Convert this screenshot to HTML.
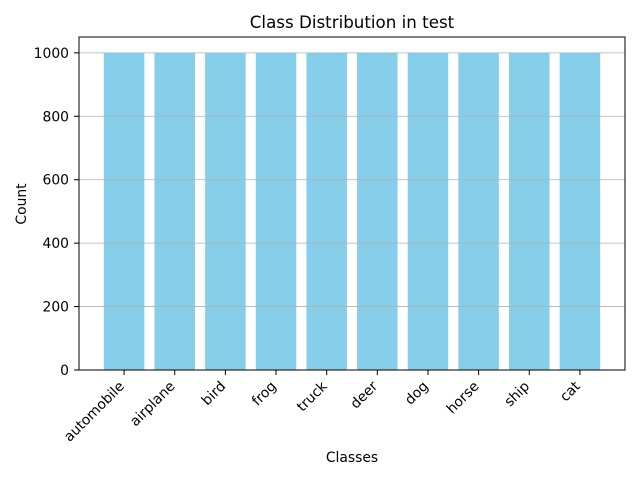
<!DOCTYPE html>
<html><head><meta charset="utf-8"><style>
body{margin:0;background:#fff;}
svg{font-family:"DejaVu Sans","Liberation Sans",sans-serif;}
</style></head><body>
<svg id="chart" width="640" height="480" xmlns="http://www.w3.org/2000/svg">
<text x="352" y="28" text-anchor="middle" font-size="16.7" fill="#000">Class Distribution in test</text>
<text x="352" y="462" text-anchor="middle" font-size="13.9">Classes</text>
<text transform="translate(26,204) rotate(-90)" text-anchor="middle" font-size="13.9">Count</text>
<g id="bars"></g><g id="grid"></g><g id="ticks"></g>
<rect x="79" y="37" width="546" height="333" fill="none" stroke="#000" stroke-width="1"/>
</svg>
<script>
const categories=["automobile","airplane","bird","frog","truck","deer","dog","horse","ship","cat"];
const counts=[1000,1000,1000,1000,1000,1000,1000,1000,1000,1000];
const yTicks=[0,200,400,600,800,1000];
const L=79,R=625,T=37,B=370,yMax=1050;
const xmin=-0.89,xmax=categories.length-1+0.89;
const xs=v=>L+(v-xmin)/(xmax-xmin)*(R-L);
const ys=v=>B-v/yMax*(B-T);
const NS="http://www.w3.org/2000/svg";
const bars=document.getElementById('bars'),grid=document.getElementById('grid'),ticks=document.getElementById('ticks');
function mk(tag,attrs,parent){const e=document.createElementNS(NS,tag);for(const k in attrs)e.setAttribute(k,attrs[k]);parent.appendChild(e);return e;}
categories.forEach((c,i)=>{
  const x0=xs(i-0.4),x1=xs(i+0.4);
  const r=mk('rect',{x:x0,y:ys(counts[i]),width:x1-x0,height:B-ys(counts[i]),fill:'#87ceeb'},bars);
  
  
  const cx=xs(i);
  const tk=mk('line',{x1:cx,x2:cx,y1:B,y2:B+5,stroke:'#000'},ticks);
  
  
  const t=mk('text',{transform:`translate(${cx+1},${B+17}) rotate(-45)`,'text-anchor':'end','font-size':'13.9'},ticks);
  t.textContent=c;
  
  
});
yTicks.forEach(v=>{
  const y=ys(v);
  const g=mk('line',{x1:L,x2:R,y1:y,y2:y,stroke:'#b0b0b0','stroke-width':0.8},grid);
  
  
  const tk=mk('line',{x1:L-5,x2:L,y1:y,y2:y,stroke:'#000'},ticks);
  
  
  const t=mk('text',{x:L-10,y:y+5,'text-anchor':'end','font-size':'13.9'},ticks);
  t.textContent=v;
  
  
});
</script>
</body></html>
